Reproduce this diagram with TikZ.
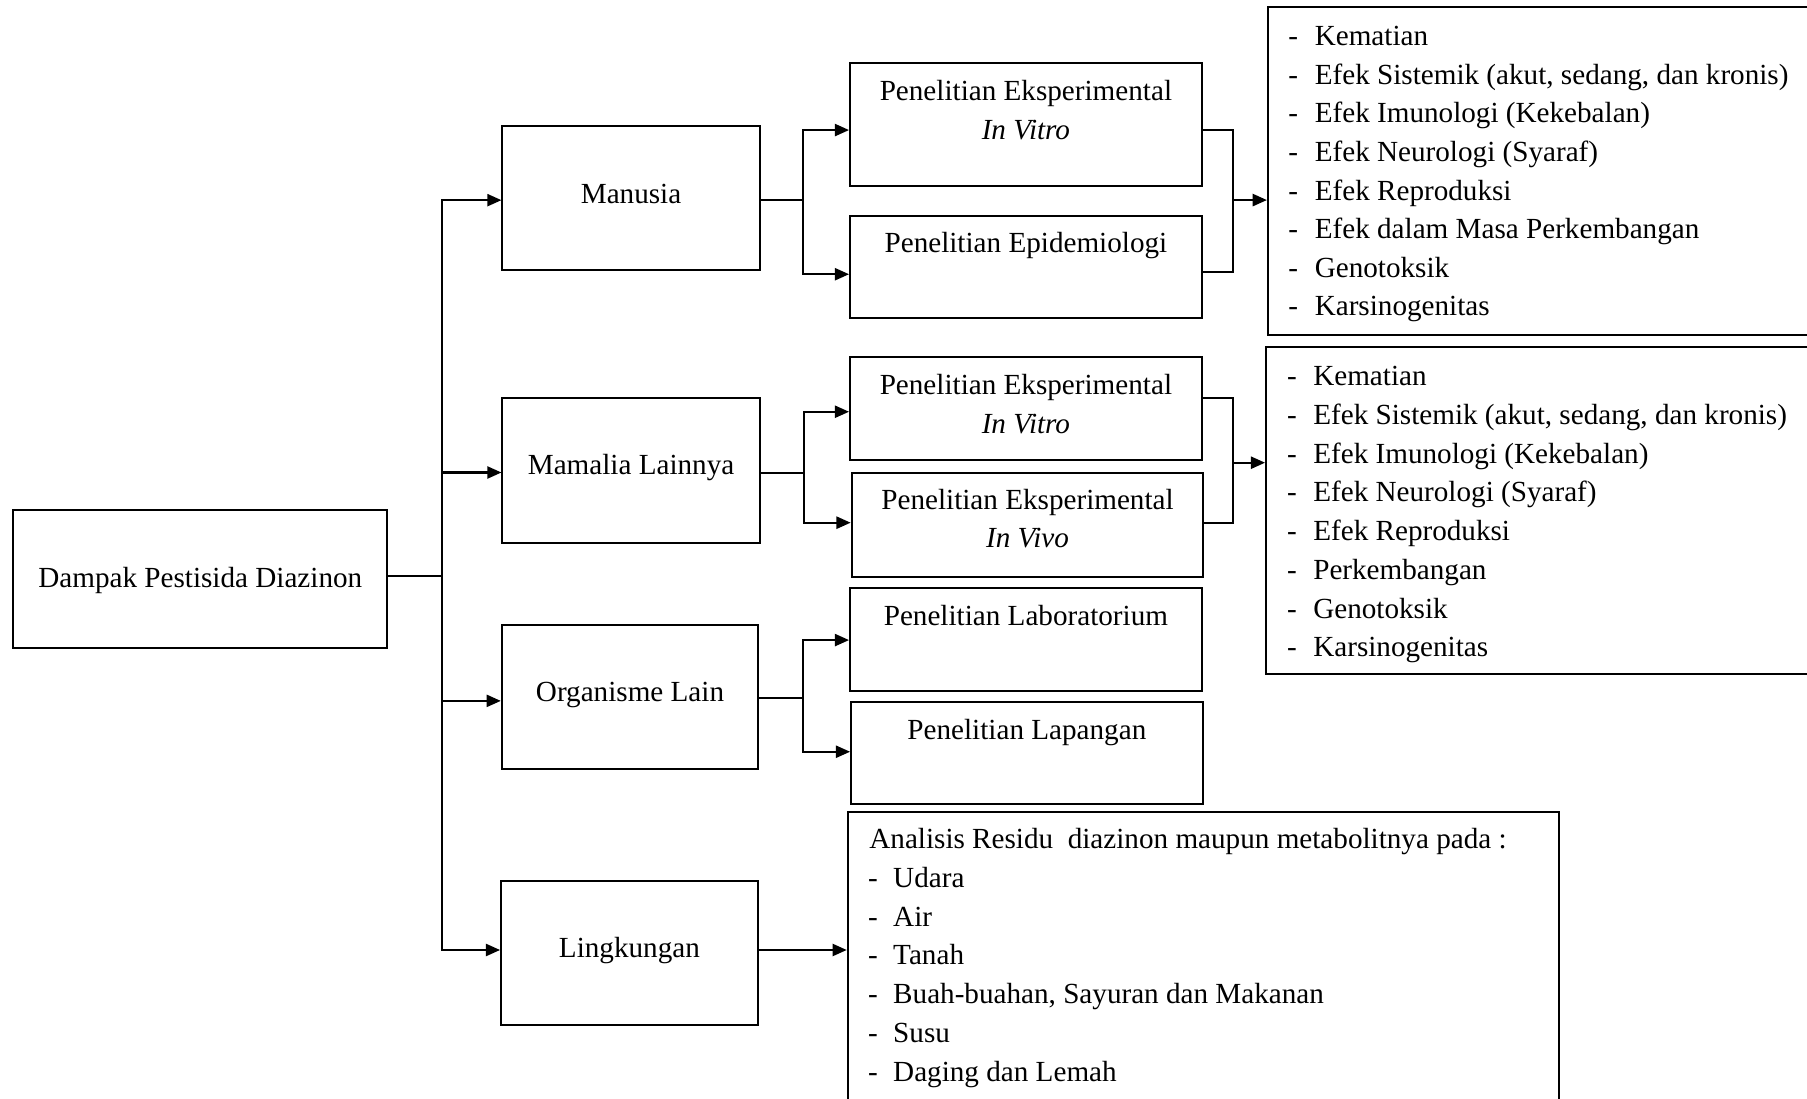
\documentclass[tikz,border=0pt]{standalone}
\usepackage{fontspec}
\setmainfont{Liberation Serif}
\usetikzlibrary{arrows.meta,calc,fit}
\begin{document}
\begin{tikzpicture}[x=0.02cm,y=-0.02cm,
  font=\fontsize{14.4}{19.2}\selectfont,
  line width=1pt,
  box/.style={draw, line width=1pt, inner sep=0pt},
  arr/.style={-{Triangle[length=7pt,width=6pt]}},
  txt/.style={inner sep=0pt, anchor=base},
]
\useasboundingbox (0,0) rectangle (1568,953);
\clip (0,0) rectangle (1568,953);
\fill[white] (0,0) rectangle (1568,953);

% main boxes
\node[box, fit={(11.7,442.2)(335.9,561.9)}] (dampak) {};
\node[box, fit={(436,109.1)(659.2,234.7)}] (man) {};
\node[box, fit={(436,345.6)(659.2,471.1)}] (mam) {};
\node[box, fit={(435.4,542.4)(658,667.6)}] (org) {};
\node[box, fit={(434.8,764.5)(657.5,889.5)}] (ling) {};
\node[txt] (dampakt) at ($(dampak.center)+(0,7.8)$) {Dampak Pestisida Diazinon};
\node[txt] (mant) at ($(man.center)+(0,4.8)$) {Manusia};
\node[txt] (mamt) at ($(mam.center)+(0,3.8)$) {Mamalia Lainnya};
\node[txt] (orgt) at ($(org.center)+(0,3.9)$) {Organisme Lain};
\node[txt] (lingt) at ($(ling.center)+(0,3.7)$) {Lingkungan};

% research boxes
\node[box, fit={(737.6,55)(1042.8,161.4)}] (pv1) {};
\node[box, fit={(737.6,187.2)(1042.8,276.2)}] (epid) {};
\node[box, fit={(737.6,309.5)(1042.8,399.2)}] (pv2) {};
\node[box, fit={(739,410.2)(1044.2,500.4)}] (pvivo) {};
\node[box, fit={(737.6,510.5)(1042.8,599.6)}] (lab) {};
\node[box, fit={(738.5,608.9)(1043.6,697.7)}] (lap) {};

\node[txt] (pv1a) at ($(pv1.north)+(0,33.2)$) {Penelitian Eksperimental};
\node[txt] (pv1b) at ($(pv1.north)+(0,66.5)$) {\textit{In Vitro}};
\node[txt] (epida) at ($(epid.north)+(0,32.6)$) {Penelitian Epidemiologi};
\node[txt] (pv2a) at ($(pv2.north)+(0,33.3)$) {Penelitian Eksperimental};
\node[txt] (pv2b) at ($(pv2.north)+(0,67.5)$) {\textit{In Vitro}};
\node[txt] (pviva) at ($(pvivo.north)+(0,32.4)$) {Penelitian Eksperimental};
\node[txt] (pvivb) at ($(pvivo.north)+(0,65.6)$) {\textit{In Vivo}};
\node[txt] (laba) at ($(lab.north)+(0,33.3)$) {Penelitian Laboratorium};
\node[txt] (lapa) at ($(lap.north)+(0,34)$) {Penelitian Lapangan};

% effect boxes
\node[box, fit={(1100.2,6.4)(1600,290.7)}] (eff1) {};
\node[box, fit={(1098.6,301.4)(1600,585.2)}] (eff2) {};
\node[box, fit={(735.6,704.3)(1352.6,990)}] (ana) {};

\foreach \t [count=\i from 0] in {Kematian, {Efek Sistemik (akut, sedang, dan kronis)}, {Efek Imunologi (Kekebalan)}, {Efek Neurologi (Syaraf)}, {Efek Reproduksi}, {Efek dalam Masa Perkembangan}, Genotoksik, Karsinogenitas} {
  \node[txt, anchor=base west] (ea\i) at (1117,{39.6+\i*33.5}) {-};
  \node[txt, anchor=base west] (eb\i) at (1140,{39.6+\i*33.5}) {\t};
}
\foreach \t [count=\i from 0] in {Kematian, {Efek Sistemik (akut, sedang, dan kronis)}, {Efek Imunologi (Kekebalan)}, {Efek Neurologi (Syaraf)}, {Efek Reproduksi}, Perkembangan, Genotoksik, Karsinogenitas} {
  \node[txt, anchor=base west] (fa\i) at (1116,{334.7+\i*33.6}) {-};
  \node[txt, anchor=base west] (fb\i) at (1138.7,{334.7+\i*33.6}) {\t};
}
\node[txt, anchor=base west] (anat) at (753.5,736.2) {Analisis Residu\ \ diazinon maupun metabolitnya pada :};
\foreach \t [count=\i from 1] in {Udara, Air, Tanah, {Buah-buahan, Sayuran dan Makanan}, Susu, {Daging dan Lemah}} {
  \node[txt, anchor=base west] (ga\i) at (752.5,{736.2+\i*33.7}) {-};
  \node[txt, anchor=base west] (gb\i) at (774.2,{736.2+\i*33.7}) {\t};
}

% trunk
\coordinate (hub) at (383.7,499.6);
\draw (dampak.east |- hub) -- (hub);
\draw[arr] (hub) |- ($(man.north west)!0.514!(man.south west)$);
\draw[arr] (hub) |- ($(mam.north west)!0.513!(mam.south west)$);
\draw[arr] (hub) |- ($(org.north west)!0.525!(org.south west)$);
\draw[arr] (hub) |- ($(ling.north west)!0.479!(ling.south west)$);

% Manusia branch
\coordinate (lj1) at (697.1,173.6);
\draw (man.east |- lj1) -- (lj1);
\draw[arr] (lj1) |- ($(pv1.north west)!0.543!(pv1.south west)$);
\draw[arr] (lj1) |- ($(epid.north west)!0.569!(epid.south west)$);
\coordinate (rj1) at (1069.7,173.6);
\draw ($(pv1.north east)!0.543!(pv1.south east)$) -| (rj1) |- ($(epid.north east)!0.547!(epid.south east)$);
\draw[arr] (rj1) -- (rj1 -| eff1.west);

% Mamalia branch
\coordinate (lj2) at (697.7,410.2);
\draw (mam.east |- lj2) -- (lj2);
\draw[arr] (lj2) |- ($(pv2.north west)!0.532!(pv2.south west)$);
\draw[arr] (lj2) |- ($(pvivo.north west)!0.481!(pvivo.south west)$);
\coordinate (rj2) at (1069.7,401.5);
\draw ($(pv2.north east)!0.402!(pv2.south east)$) -| (rj2) |- ($(pvivo.north east)!0.481!(pvivo.south east)$);
\draw[arr] (rj2) -- (rj2 -| eff2.west);

% Organisme branch
\coordinate (lj3) at (697.1,605.4);
\draw (org.east |- lj3) -- (lj3);
\draw[arr] (lj3) |- ($(lab.north west)!0.504!(lab.south west)$);
\draw[arr] (lj3) |- ($(lap.north west)!0.489!(lap.south west)$);

% Lingkungan
\coordinate (lo) at ($(ling.north east)!0.479!(ling.south east)$);
\draw[arr] (lo) -- (lo -| ana.west);
\end{tikzpicture}
\end{document}
